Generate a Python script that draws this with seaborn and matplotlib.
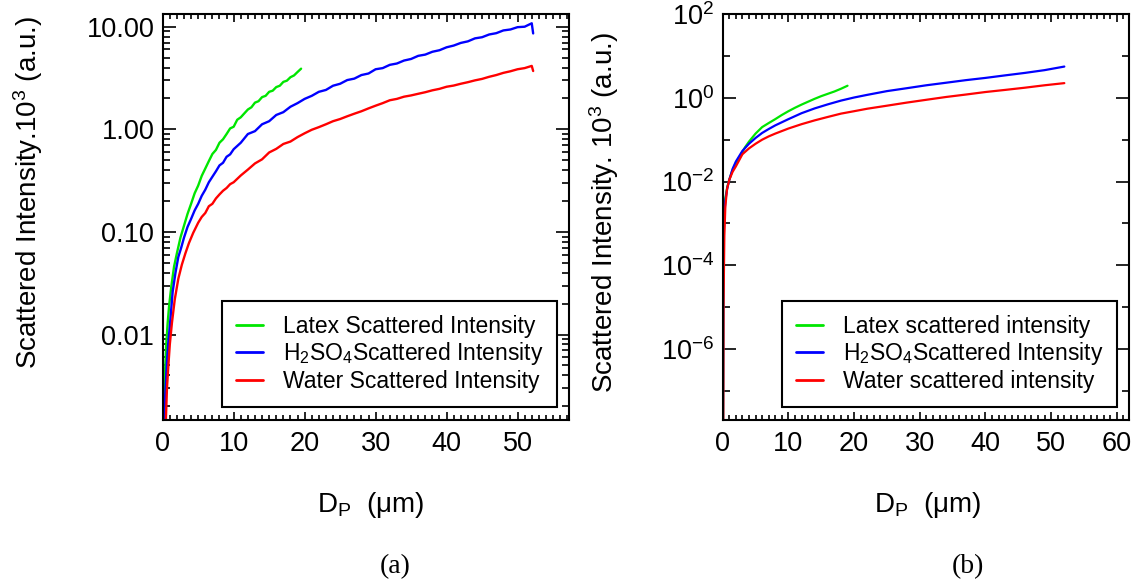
import numpy as np
import pandas as pd
import matplotlib
matplotlib.use("Agg")
import matplotlib.pyplot as plt
import matplotlib.ticker as mticker
import seaborn as sns

# ---------------- data: panel (a) ----------------
latex_a_d = [0.1, 0.3, 0.5, 0.7, 0.9, 1.2, 1.6, 2.0, 2.5, 3.0, 3.5, 4.0, 4.5, 5.0, 5.5, 6.0,
             6.5, 7.0, 7.5, 8.0, 8.5, 9.0, 9.5, 10.0, 10.5, 11.0, 11.5, 12.0, 12.5, 13.0, 13.5,
             14.0, 14.5, 15.0, 15.5, 16.0, 16.5, 17.0, 17.5, 18.0, 18.5, 19.0, 19.5]
latex_a_i = [0.0015, 0.004, 0.008, 0.013, 0.019, 0.029, 0.046, 0.062, 0.088, 0.115, 0.15, 0.188,
             0.238, 0.283, 0.352, 0.415, 0.49, 0.575, 0.63, 0.74, 0.8, 0.9, 1.02, 1.06, 1.24,
             1.31, 1.43, 1.56, 1.64, 1.82, 1.88, 2.06, 2.12, 2.32, 2.38, 2.58, 2.66, 2.9, 2.98,
             3.22, 3.35, 3.62, 3.9]

h2so4_a_d = [0.2, 0.4, 0.6, 0.8, 1.0, 1.4, 1.8, 2.2, 2.6, 3.0, 3.5, 4.0, 4.5, 5.0, 5.5, 6.0, 6.5,
             7.0, 7.5, 8.0, 8.5, 9.0, 9.5, 10.0, 11.0, 12.0, 13.0, 14.0, 15.0, 16.0, 17.0, 18.0,
             19.0, 20.0, 21.0, 22.0, 23.0, 24.0, 25.0, 26.0, 27.0, 28.0, 29.0, 30.0, 31.0, 32.0,
             33.0, 34.0, 35.0, 36.0, 37.0, 38.0, 39.0, 40.0, 41.0, 42.0, 43.0, 44.0, 45.0, 46.0,
             47.0, 48.0, 49.0, 50.0, 51.0, 52.0, 52.2]
h2so4_a_i = [0.0015, 0.003, 0.0055, 0.0085, 0.012, 0.026, 0.04, 0.057, 0.07, 0.088, 0.112,
             0.134, 0.162, 0.188, 0.225, 0.258, 0.305, 0.345, 0.39, 0.445, 0.472, 0.54, 0.57,
             0.64, 0.74, 0.9, 0.96, 1.12, 1.2, 1.38, 1.47, 1.66, 1.8, 1.98, 2.12, 2.32, 2.42,
             2.66, 2.78, 3.02, 3.12, 3.38, 3.5, 3.85, 3.95, 4.25, 4.38, 4.68, 4.85, 5.2, 5.35,
             5.7, 5.9, 6.3, 6.55, 6.95, 7.2, 7.7, 7.9, 8.4, 8.65, 9.2, 9.4, 9.9, 10.0, 10.8, 8.6]

water_a_d = [0.45, 0.6, 0.8, 1.0, 1.3, 1.7, 2.2, 2.7, 3.2, 3.7, 4.3, 5.0, 5.5, 6.0, 6.5, 7.0, 7.5,
             8.0, 8.5, 9.0, 9.5, 10.0, 11.0, 12.0, 13.0, 14.0, 15.0, 16.0, 17.0, 18.0, 19.0,
             20.0, 21.0, 22.0, 23.0, 24.0, 25.0, 26.0, 27.0, 28.0, 29.0, 30.0, 31.0, 32.0, 33.0,
             34.0, 35.0, 36.0, 37.0, 38.0, 39.0, 40.0, 41.0, 42.0, 43.0, 44.0, 45.0, 46.0, 47.0,
             48.0, 49.0, 50.0, 51.0, 52.0, 52.2]
water_a_i = [0.0015, 0.003, 0.005, 0.008, 0.013, 0.022, 0.035, 0.048, 0.062, 0.078, 0.098, 0.123,
             0.14, 0.153, 0.178, 0.188, 0.212, 0.232, 0.252, 0.268, 0.292, 0.305, 0.355, 0.405,
             0.465, 0.51, 0.595, 0.645, 0.72, 0.76, 0.84, 0.915, 0.99, 1.05, 1.12, 1.2, 1.26,
             1.34, 1.42, 1.5, 1.6, 1.7, 1.8, 1.92, 1.98, 2.08, 2.14, 2.22, 2.3, 2.4, 2.48, 2.6,
             2.67, 2.78, 2.88, 3.0, 3.1, 3.25, 3.38, 3.55, 3.68, 3.85, 3.95, 4.15, 3.7]

# ---------------- data: panel (b) ----------------
latex_b_d = [0.05, 0.1, 0.2, 0.4, 0.7, 1.0, 1.4, 1.8, 2.3, 2.8, 3.4, 4.0, 5.0, 6.0, 7.0, 8.0,
             9.0, 10.0, 11.0, 12.0, 13.0, 14.0, 15.0, 16.0, 17.0, 18.0, 19.0]
latex_b_i = [1e-8, 1e-4, 0.0012, 0.004, 0.0075, 0.011, 0.017, 0.024, 0.033, 0.045, 0.066, 0.09,
             0.14, 0.2, 0.25, 0.31, 0.39, 0.48, 0.58, 0.69, 0.81, 0.95, 1.1, 1.25, 1.42, 1.65,
             1.95]

h2so4_b_d = [0.05, 0.1, 0.2, 0.4, 0.7, 1.0, 1.5, 2.0, 3.0, 4.0, 5.0, 6.0, 7.0, 8.0, 10.0, 12.0,
             14.0, 16.0, 18.0, 20.0, 22.0, 25.0, 28.0, 31.0, 34.0, 37.0, 40.0, 43.0, 46.0, 49.0,
             52.0]
h2so4_b_i = [1e-8, 8e-5, 0.001, 0.0035, 0.007, 0.011, 0.02, 0.03, 0.054, 0.08, 0.11, 0.145,
             0.18, 0.22, 0.31, 0.43, 0.56, 0.7, 0.86, 1.02, 1.18, 1.45, 1.7, 2.0, 2.3, 2.65, 3.0,
             3.45, 3.95, 4.6, 5.6]

water_b_d = [0.08, 0.12, 0.25, 0.4, 0.65, 1.0, 1.5, 2.0, 3.0, 4.0, 5.0, 6.0, 7.0, 8.0, 10.0,
             12.0, 14.0, 16.0, 18.0, 20.0, 22.0, 25.0, 28.0, 31.0, 34.0, 37.0, 40.0, 43.0, 46.0,
             49.0, 52.0]
water_b_i = [1e-8, 1e-5, 5e-4, 0.0025, 0.0065, 0.011, 0.017, 0.023, 0.045, 0.062, 0.08, 0.1,
             0.12, 0.14, 0.185, 0.235, 0.29, 0.35, 0.42, 0.48, 0.55, 0.65, 0.77, 0.9, 1.05, 1.2,
             1.38, 1.55, 1.75, 2.0, 2.25]

labels_a = ["Latex Scattered Intensity", "H$_2$SO$_4$Scattered Intensity",
            "Water Scattered Intensity"]
labels_b = ["Latex scattered intensity", "H$_2$SO$_4$Scattered Intensity",
            "Water scattered intensity"]
colors = ["#00e600", "#0000ff", "#ff0000"]

# ---------------- style ----------------
sns.set_theme(style="ticks")
plt.rcParams["font.family"] = ["Liberation Sans", "DejaVu Sans"]
plt.rcParams["mathtext.fontset"] = "custom"
plt.rcParams["mathtext.rm"] = "Liberation Sans"
plt.rcParams["mathtext.it"] = "Liberation Sans:italic"
plt.rcParams["mathtext.bf"] = "Liberation Sans:bold"
plt.rcParams["axes.linewidth"] = 1.5
plt.rcParams["text.color"] = "black"
plt.rcParams["axes.labelcolor"] = "black"
plt.rcParams["xtick.color"] = "black"
plt.rcParams["ytick.color"] = "black"

fig = plt.figure(figsize=(11.41, 5.86), dpi=100)
axA = fig.add_axes([0.1426, 0.2833, 0.3564, 0.6928])
axB = fig.add_axes([0.6334, 0.2833, 0.3564, 0.6928])

def draw(ax, series, labels, lw):
    for (d, i), lab, c in zip(series, labels, colors):
        df = pd.DataFrame({"D": d, "I": i})
        sns.lineplot(data=df, x="D", y="I", ax=ax, color=c, label=lab, lw=lw,
                     estimator=None, sort=False)

draw(axA, [(latex_a_d, latex_a_i), (h2so4_a_d, h2so4_a_i), (water_a_d, water_a_i)],
     labels_a, 1.7)
draw(axB, [(latex_b_d, latex_b_i), (h2so4_b_d, h2so4_b_i), (water_b_d, water_b_i)],
     labels_b, 1.6)

for ax in (axA, axB):
    ax.set_yscale("log")
    ax.xaxis.set_major_locator(mticker.MultipleLocator(10))
    ax.xaxis.set_minor_locator(mticker.MultipleLocator(1))
    ax.tick_params(which="both", direction="in", top=True, right=True,
                   labelsize=19.5, width=1.2, colors="black")
    ax.tick_params(axis="x", which="major", length=6, pad=8)
    ax.tick_params(axis="x", which="minor", length=3.6)
    ax.tick_params(axis="y", which="major", length=9.5, pad=6)
    ax.tick_params(axis="y", which="minor", length=4.8)
    for s in ax.spines.values():
        s.set_color("black")
        s.set_linewidth(1.5)

axA.set_xlim(0, 57.3)
axA.set_ylim(0.00147, 13.3)
axA.yaxis.set_major_locator(mticker.FixedLocator([0.01, 0.1, 1, 10]))
axA.yaxis.set_major_formatter(mticker.FixedFormatter(["0.01", "0.10", "1.00", "10.00"]))
axA.yaxis.set_minor_locator(mticker.LogLocator(base=10, subs=np.arange(2, 10)))
axA.yaxis.set_minor_formatter(mticker.NullFormatter())

axB.set_xlim(0, 61.9)
axB.set_ylim(2e-8, 101)
axB.yaxis.set_major_locator(mticker.FixedLocator([1e-6, 1e-4, 1e-2, 1, 1e2]))
axB.yaxis.set_major_formatter(mticker.FuncFormatter(
    lambda v, p: r"$10^{%d}$" % int(round(np.log10(v)))))
axB.yaxis.set_minor_locator(mticker.FixedLocator([1e-7, 1e-5, 1e-3, 1e-1, 1e1]))
axB.yaxis.set_minor_formatter(mticker.NullFormatter())

xlabel = r"D$_\mathrm{P}$  (μm)"
axA.set_xlabel(xlabel, fontsize=20)
axB.set_xlabel(xlabel, fontsize=20)
axA.set_ylabel(r"Scattered Intensity.10$^3$ (a.u.)", fontsize=20)
axB.set_ylabel(r"Scattered Intensity. 10$^3$ (a.u.)", fontsize=20)
for ax, xc, yx, yy in ((axA, 0.512, -0.33, 0.561), (axB, 0.505, -0.292, 0.51)):
    ax.xaxis.label.set_va("center")
    ax.xaxis.set_label_coords(xc, -0.21)
    ax.yaxis.label.set_va("center")
    ax.yaxis.set_label_coords(yx, yy)

for ax in (axA, axB):
    leg = ax.legend(loc="lower right", bbox_to_anchor=(0.970, 0.032), borderaxespad=0,
                    fontsize=16.5, frameon=True, fancybox=False, handlelength=1.2,
                    handletextpad=0.85, labelspacing=0.12, borderpad=0.6)
    fr = leg.get_frame()
    fr.set_edgecolor("black")
    fr.set_linewidth(1.5)
    fr.set_alpha(1)
    for ln in leg.get_lines():
        ln.set_linewidth(2)

fig.text(395.6 / 1141, 1 - 566.7 / 586, "(a)", ha="center", va="center", fontsize=20,
         family=["Liberation Serif", "DejaVu Serif"])
fig.text(968 / 1141, 1 - 566.7 / 586, "(b)", ha="center", va="center", fontsize=20,
         family=["Liberation Serif", "DejaVu Serif"])

fig.savefig("out.png", dpi=100, facecolor="white")
